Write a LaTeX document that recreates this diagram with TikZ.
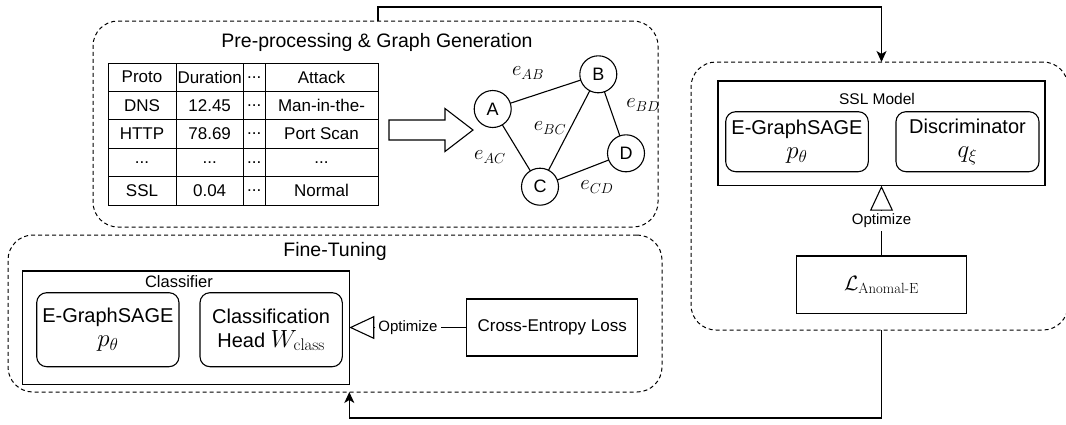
\documentclass[tikz,border=0pt]{standalone}
\usepackage{amsmath}
\usepackage{fontspec}
\setmainfont{Liberation Sans}
\newfontfamily\cmrm{Latin Modern Roman}
\usetikzlibrary{arrows.meta}
\newcommand\tdots{...}
\newcommand\bigmath[1]{{\fontsize{24}{26}\selectfont$#1$}}

\begin{document}
\begin{tikzpicture}[x=1pt,y=-1pt,
  every node/.style={inner sep=0pt, outer sep=0pt},
  group/.style={draw, dash pattern=on 4pt off 3pt, rounded corners=25pt, line width=1pt},
  frame/.style={draw, line width=1.1pt},
  part/.style={draw, line width=1.1pt, rounded corners=10pt, align=center,
               font=\fontsize{20}{28}\selectfont},
  cell/.style={draw, line width=1pt, minimum height=28.4pt,
               font=\fontsize{17}{20}\selectfont},
  vert/.style={draw, circle, line width=1.1pt, minimum size=37pt,
               font=\fontsize{18}{20}\selectfont},
  elabel/.style={font=\fontsize{21}{23}\selectfont},
  title/.style={font=\fontsize{19.5}{22}\selectfont},
  caption/.style={font=\fontsize{15.5}{18}\selectfont},
  link/.style={line width=1.1pt},
  optim/.style={-{Triangle[open,length=25pt,width=23pt]}, line width=1.1pt},
  flow/.style={-{Stealth[length=11pt,width=10pt,inset=3pt]}, line width=1.1pt},
  tag/.style={inner xsep=3pt, inner ysep=3pt, font=\fontsize{15}{17}\selectfont},
]
\useasboundingbox (0,0) rectangle (1066,424);

% ---------- stage groups ----------
\node[group, minimum width=565pt, minimum height=206pt] (pre) at (375.5,124) {};
\node[group, minimum width=654pt, minimum height=157pt] (ft) at (335,313.5) {};
\node[group, minimum width=377pt, minimum height=268pt] (ssl) at (879.5,196) {};

\node[title] (pretitle) at (377,42) {Pre-processing \& Graph Generation};
\node[title] (fttitle) at (335,251) {Fine-Tuning};

% ---------- flow table ----------
\foreach \r/\y/\a/\b/\c/\d in {1/77.2/Proto/Duration/{\tdots}/Attack,
                               2/105.6/DNS/12.45/{\tdots}/Man-in-the-,
                               3/134/HTTP/78.69/{\tdots}/{Port Scan},
                               4/162.4/{\tdots}/{\tdots}/{\tdots}/{\tdots},
                               5/190.8/SSL/0.04/{\tdots}/Normal}{
  \node[cell, minimum width=68pt]   (c\r-1) at (142,\y)    {\a};
  \node[cell, minimum width=67.3pt] (c\r-2) at (209.65,\y) {\b};
  \node[cell, minimum width=21.7pt] (c\r-3) at (254.15,\y) {\c};
  \node[cell, minimum width=113pt]  (c\r-4) at (321.5,\y)  {\d};
}

% hollow block arrow from table to graph
\draw[link] (389,120) -- (445,120) -- (445,108.5) -- (473,130)
  -- (445,151.5) -- (445,140) -- (389,140) -- cycle;

% ---------- flow graph ----------
\node[vert] (A) at (492.7,109) {A};
\node[vert] (B) at (598.3,74.3) {B};
\node[vert] (C) at (540,186.7) {C};
\node[vert] (D) at (626,153.3) {D};
\draw[link] (A) -- (B);
\draw[link] (A) -- (C);
\draw[link] (B) -- (C);
\draw[link] (B) -- (D);
\draw[link] (C) -- (D);
\node[elabel] (eAB) at (528,73)  {$e_{AB}$};
\node[elabel] (eBD) at (643,105) {$e_{BD}$};
\node[elabel] (eBC) at (550,128) {$e_{BC}$};
\node[elabel] (eAC) at (490,157) {$e_{AC}$};
\node[elabel] (eCD) at (597,187) {$e_{CD}$};

% ---------- SSL stage ----------
\node[frame, minimum width=327pt, minimum height=104.7pt] (sslm) at (881.5,133.35) {};
\node[caption] (ssltitle) at (877,99) {SSL Model};
\node[part, minimum width=142.6pt, minimum height=60pt] (enc1) at (797,141.7)
  {E-GraphSAGE\\[-4pt]\bigmath{p_\theta}};
\node[part, minimum width=143pt, minimum height=60pt] (disc) at (967.5,141.7)
  {Discriminator\\[-4pt]\bigmath{q_\xi}};
\node[frame, minimum width=170.7pt, minimum height=57.3pt] (anom) at (881.5,284.65)
  {\fontsize{21}{23}\selectfont$\mathcal{L}_{\text{\cmrm Anomal-E}}$};
% labelled optimisation link: plain line up to the label, open triangle beyond it
\path (anom.north) -- node[tag] (opt1) {Optimize} (anom.north |- sslm.south);
\draw[link] (anom.north) -- (opt1.south);
\draw[optim] (opt1.north) -- (anom.north |- sslm.south);

% ---------- fine-tuning stage ----------
\node[frame, minimum width=326.6pt, minimum height=113.3pt] (cls) at (186,327.65) {};
\node[caption, font=\fontsize{16.5}{18}\selectfont] (clstitle) at (179,282) {Classifier};
\node[part, minimum width=142.3pt, minimum height=74pt] (enc2) at (107.85,329.7)
  {E-GraphSAGE\\[-4pt]\bigmath{p_\theta}};
\node[part, minimum width=142.3pt, minimum height=74pt] (head) at (271.15,329.7)
  {Classification\\[-4pt]Head \bigmath{W_{\text{\cmrm class}}}};
\node[frame, minimum width=171pt, minimum height=57pt,
      font=\fontsize{17}{20}\selectfont] (ce) at (552.2,327.5) {Cross-Entropy Loss};
\path (ce.west) -- node[tag] (opt2) {Optimize} (cls.east |- ce.west);
\draw[link] (ce.west) -- (opt2.east);
\draw[optim] (opt2.west) -- (cls.east |- opt2.west);

% ---------- stage hand-over ----------
\draw[flow] (pre.north -| c1-4.east) -- ++(0,-14) -| (sslm.center |- ssl.north);
\draw[flow] (ssl.south -| anom.center) -- ++(0,88) -| (cls.east |- ft.south);
\end{tikzpicture}
\end{document}
